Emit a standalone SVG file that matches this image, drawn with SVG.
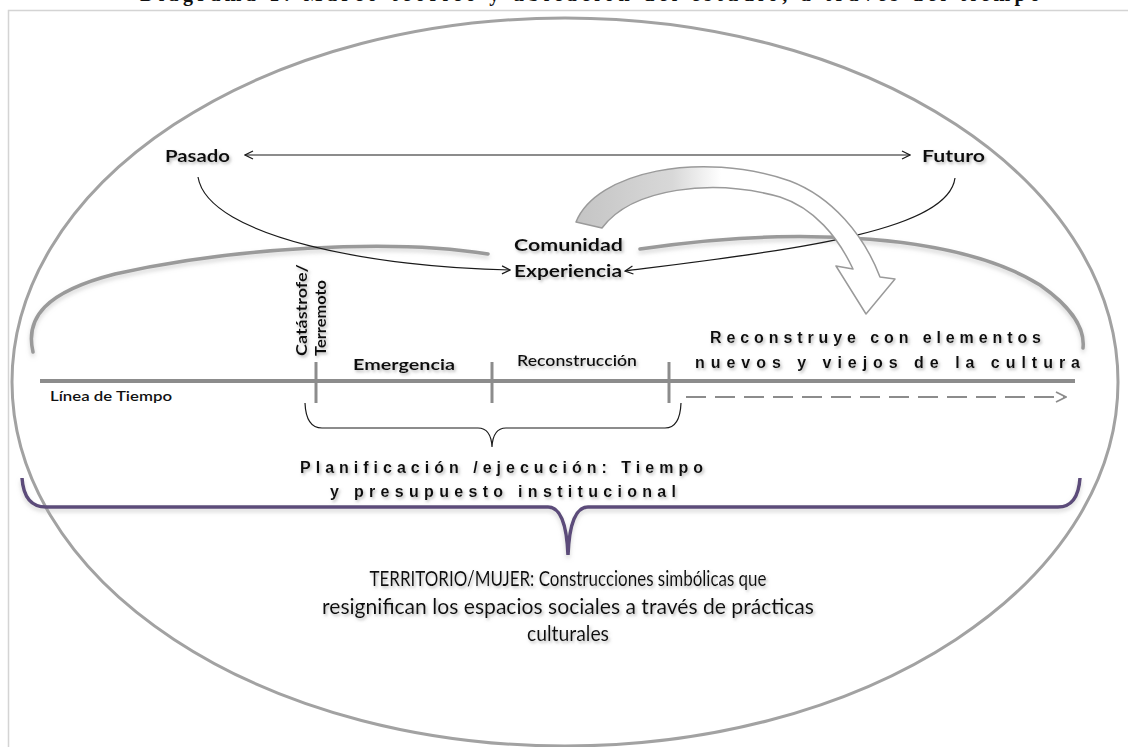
<svg xmlns="http://www.w3.org/2000/svg" width="1128" height="747" viewBox="0 0 1128 747">
<defs>
<style>
.t{font-family:Lato,"Open Sans","DejaVu Sans",sans-serif;fill:#111;}
.b{font-weight:bold;}
.sp{font-family:"Liberation Sans",Arial,sans-serif;font-weight:bold;fill:#111;}
.thin{fill:none;stroke:#1a1a1a;stroke-width:1.2;}
.arc{fill:none;stroke:#9a9a9a;stroke-width:3.5;stroke-linecap:round;}
.tick{stroke:#8c8c8c;stroke-width:3;}
</style>
<filter id="sh" x="-10%" y="-30%" width="120%" height="160%">
<feDropShadow dx="1.5" dy="2" stdDeviation="1.5" flood-color="#888" flood-opacity="0.6"/>
</filter>
<filter id="sh2" x="-10%" y="-30%" width="120%" height="160%">
<feDropShadow dx="0" dy="3" stdDeviation="2" flood-color="#aaa" flood-opacity="0.5"/>
</filter>
<marker id="ch" viewBox="0 0 10 10" refX="9" refY="5" markerWidth="10" markerHeight="10" markerUnits="userSpaceOnUse" orient="auto-start-reverse">
<path d="M1,1 L9,5 L1,9" fill="none" stroke="#1a1a1a" stroke-width="1.2"/>
</marker>
<marker id="chg" viewBox="0 0 12 12" refX="11" refY="6" markerWidth="12" markerHeight="12" markerUnits="userSpaceOnUse" orient="auto">
<path d="M1,1 L11,6 L1,11" fill="none" stroke="#8c8c8c" stroke-width="1.8"/>
</marker>
<linearGradient id="ag" x1="575" y1="0" x2="900" y2="0" gradientUnits="userSpaceOnUse">
<stop offset="0" stop-color="#c4c4c4"/>
<stop offset="0.3" stop-color="#d8d8d8"/>
<stop offset="0.45" stop-color="#ffffff"/>
<stop offset="1" stop-color="#ffffff"/>
</linearGradient>
</defs>
<rect width="1128" height="747" fill="#fff"/>
<text x="140" y="0.5" class="t b" style="font-family:'Liberation Serif',serif;font-size:20px" textLength="900">Diagrama 1: Marco teórico y ubicación del estudio, a través del tiempo</text>
<rect x="8.5" y="10.5" width="1130" height="745" fill="none" stroke="#d4d4d4" stroke-width="1.5"/>

<g id="ellipse">
<ellipse cx="565" cy="382" rx="553" ry="364" fill="none" stroke="#a2a2a2" stroke-width="3"/>
</g>

<g id="arcs" filter="url(#sh2)">
<path class="arc" d="M33,352 C25,318 45,292 115,274 C230,248 390,238 488,254"/>
<path class="arc" d="M640,249 C800,225 960,235 1040,285 C1073,308 1085,330 1083,348"/>
</g>

<g id="connectors">
<line class="thin" x1="245" y1="155" x2="910" y2="155" marker-start="url(#ch)" marker-end="url(#ch)"/>
<path class="thin" d="M198,177 C208,238 380,268 510,270" marker-end="url(#ch)"/>
<path class="thin" d="M955,178 C948,232 790,250 625,271" marker-end="url(#ch)"/>
<path d="M686,397 L1066,397" fill="none" stroke="#8c8c8c" stroke-width="2" stroke-dasharray="20 9" marker-end="url(#chg)"/>
</g>

<g id="bent-arrow">
<path d="M576,222 C596,172 700,150 790,181 C832,197 864,235 880,277 L895,279 L866,314 L836,266 L853,269 C838,237 814,208 780,197 C712,178 632,188 602,228 Z" fill="url(#ag)" stroke="#9a9a9a" stroke-width="1.5" stroke-linejoin="round"/>
</g>

<g id="pasado" filter="url(#sh)">
<text x="165" y="162" class="t b" style="font-size:17px" textLength="65" lengthAdjust="spacingAndGlyphs">Pasado</text>
</g>
<g id="futuro" filter="url(#sh)">
<text x="922" y="162" class="t b" style="font-size:17px" textLength="63" lengthAdjust="spacingAndGlyphs">Futuro</text>
</g>
<g id="comunidad" filter="url(#sh)">
<text x="514" y="251" class="t b" style="font-size:17px" textLength="109" lengthAdjust="spacingAndGlyphs">Comunidad</text>
<text x="514" y="277" class="t b" style="font-size:17px" textLength="108" lengthAdjust="spacingAndGlyphs">Experiencia</text>
</g>

<g id="timeline">
<line x1="40" y1="381" x2="1075" y2="381" stroke="#8c8c8c" stroke-width="4"/>
<line class="tick" x1="316" y1="362" x2="316" y2="403"/>
<line class="tick" x1="492" y1="362" x2="492" y2="403"/>
<line class="tick" x1="669" y1="362" x2="669" y2="403"/>
<text x="50" y="401" class="t" style="font-size:14px;font-weight:600" textLength="122" lengthAdjust="spacingAndGlyphs">Línea de Tiempo</text>
</g>

<g id="catastrofe" filter="url(#sh)">
<text transform="translate(307,356) rotate(-90)" class="t b" style="font-size:16px" textLength="92" lengthAdjust="spacingAndGlyphs">Catástrofe/</text>
<text transform="translate(326,356) rotate(-90)" class="t b" style="font-size:16px" textLength="76" lengthAdjust="spacingAndGlyphs">Terremoto</text>
</g>
<g id="emergencia" filter="url(#sh)">
<text x="353" y="370" class="t b" style="font-size:15px" textLength="102" lengthAdjust="spacingAndGlyphs">Emergencia</text>
</g>
<g id="reconstruccion" filter="url(#sh)">
<text x="517" y="366" class="t" style="font-size:15px;font-weight:600" textLength="120" lengthAdjust="spacingAndGlyphs">Reconstrucción</text>
</g>
<g id="reconstruye" filter="url(#sh)">
<text x="710" y="343" class="sp" style="font-size:16px" textLength="331" lengthAdjust="spacing">Reconstruye con elementos</text>
<text x="695" y="368" class="sp" style="font-size:16px" textLength="385" lengthAdjust="spacing">nuevos y viejos de la cultura</text>
</g>

<g id="brace-planificacion">
<path class="thin" d="M305,403 Q306,428 322,428 L478,428 Q491,428 492,447 Q493,428 506,428 L665,428 Q680,428 681,403"/>
</g>
<g id="planificacion" filter="url(#sh)">
<text x="300" y="473" class="sp" style="font-size:16px" textLength="403" lengthAdjust="spacing">Planificación /ejecución: Tiempo</text>
<text x="330" y="497" class="sp" style="font-size:16px" textLength="346" lengthAdjust="spacing">y presupuesto institucional</text>
</g>

<g id="brace-territorio" filter="url(#sh2)">
<path d="M22,478 Q24,507 46,507 L548,507 Q566,507 568,555 Q570,507 588,507 L1058,507 Q1078,507 1080,478" fill="none" stroke="#5b4b7a" stroke-width="3.5"/>
</g>
<g id="territorio" filter="url(#sh)">
<text x="568" y="586" class="t" text-anchor="middle" style="font-size:21px" textLength="397" lengthAdjust="spacingAndGlyphs">TERRITORIO/MUJER: Construcciones simbólicas que</text>
<text x="568" y="614" class="t" text-anchor="middle" style="font-size:21px" textLength="492" lengthAdjust="spacingAndGlyphs">resignifican los espacios sociales a través de prácticas</text>
<text x="568" y="641" class="t" text-anchor="middle" style="font-size:21px" textLength="82" lengthAdjust="spacingAndGlyphs">culturales</text>
</g>
</svg>
